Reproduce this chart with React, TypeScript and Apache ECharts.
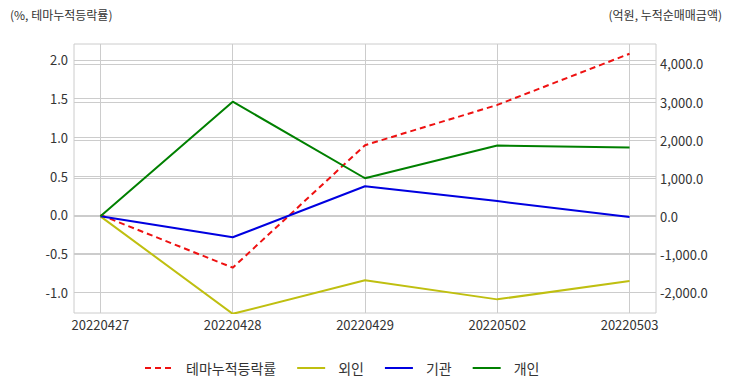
import React, { useEffect, useRef } from "react";
import * as echarts from "echarts";

const categories = ["20220427", "20220428", "20220429", "20220502", "20220503"];
const themeReturn = [0, -0.68, 0.9, 1.42, 2.08];
const foreign = [0, -2560, -1680, -2180, -1700];
const institution = [0, -550, 790, 400, -20];
const individual = [0, 3010, 1000, 1860, 1810];
const seriesNames = ["테마누적등락률", "외인", "기관", "개인"];
const leftTicks = [-1.0, -0.5, 0, 0.5, 1.0, 1.5, 2.0];
const rightTicks = [-2000, -1000, 0, 1000, 2000, 3000, 4000];

const FONT = "'Noto Sans CJK KR', 'Noto Sans', sans-serif";
const legendTextWidths = [96, 32, 34, 28];

export default function App() {
  const ref = useRef<HTMLDivElement>(null);
  useEffect(() => {
    if (!ref.current) return;
    const chart = echarts.init(ref.current, undefined, { renderer: "svg" });
    const idx = categories.map((_, i) => i);
    const fmtNum = (v: number) =>
      v.toLocaleString("en-US", { minimumFractionDigits: 1, maximumFractionDigits: 1 });
    chart.setOption({
      animation: false,
      textStyle: { fontFamily: FONT },
      grid: { left: 74, right: 76, top: 44, bottom: 79, show: true, borderColor: "#cccccc", borderWidth: 1 },
      graphic: [
        { type: "text", left: 10, top: 8, style: { text: "(%, 테마누적등락률)", font: `12px ${FONT}`, fill: "#333" } },
        { type: "text", right: 10, top: 8, style: { text: "(억원, 누적순매매금액)", font: `12px ${FONT}`, fill: "#333" } },
      ],
      legend: {
        bottom: 12,
        left: 139,
        itemWidth: 28,
        itemHeight: 12,
        itemGap: 20,
        itemStyle: { opacity: 0 },
        textStyle: { fontSize: 14, color: "#333", fontFamily: FONT, padding: [0, 0, 0, 8] },
        data: seriesNames.map((name, i) => ({ name, textStyle: { width: legendTextWidths[i] } })),
      },
      xAxis: {
        type: "value",
        min: -0.2,
        max: 4.2,
        axisLine: { show: false },
        axisTick: { show: false, customValues: idx },
        axisLabel: {
          customValues: idx,
          formatter: (v: number) => categories[Math.round(v)] ?? "",
          color: "#333",
          fontSize: 13,
          margin: 5,
        },
        splitLine: { show: true, lineStyle: { color: "#cccccc", width: 1 } },
      },
      yAxis: [
        {
          type: "value",
          min: -1.265,
          max: 2.206,
          axisLine: { show: false },
          axisTick: { show: false, customValues: leftTicks },
          axisLabel: { customValues: leftTicks, formatter: (v: number) => v.toFixed(1), color: "#333", fontSize: 13, margin: 6 },
          splitLine: { show: true, lineStyle: { color: "#cccccc", width: 1 } },
        },
        {
          type: "value",
          min: -2538,
          max: 4525,
          position: "right",
          axisLine: { show: false },
          axisTick: { show: false, customValues: rightTicks },
          axisLabel: { customValues: rightTicks, formatter: fmtNum, color: "#333", fontSize: 13, margin: 4 },
          splitLine: { show: true, lineStyle: { color: "#cccccc", width: 1 } },
        },
      ],
      series: [
        {
          name: seriesNames[0],
          type: "line",
          yAxisIndex: 0,
          data: themeReturn.map((v, i) => [i, v]),
          symbol: "none",
          lineStyle: { color: "#ee1111", width: 2, type: [6, 4] },
          itemStyle: { color: "#ee1111" },
        },
        {
          name: seriesNames[1],
          type: "line",
          yAxisIndex: 1,
          data: foreign.map((v, i) => [i, v]),
          symbol: "none",
          lineStyle: { color: "#bfbf10", width: 2 },
          itemStyle: { color: "#bfbf10" },
        },
        {
          name: seriesNames[2],
          type: "line",
          yAxisIndex: 1,
          data: institution.map((v, i) => [i, v]),
          symbol: "none",
          lineStyle: { color: "#0000e0", width: 2 },
          itemStyle: { color: "#0000e0" },
        },
        {
          name: seriesNames[3],
          type: "line",
          yAxisIndex: 1,
          data: individual.map((v, i) => [i, v]),
          symbol: "none",
          lineStyle: { color: "#008000", width: 2 },
          itemStyle: { color: "#008000" },
        },
      ],
    });
    return () => chart.dispose();
  }, []);
  return <div ref={ref} style={{ width: 732, height: 392, position: "absolute", left: 0, top: 0 }} />;
}
